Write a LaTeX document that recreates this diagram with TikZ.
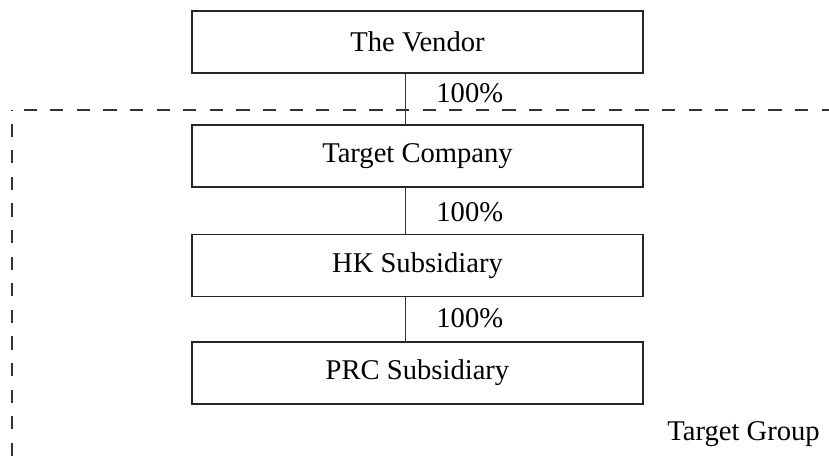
\documentclass[tikz,border=0pt]{standalone}
\usepackage{fontspec}
\setmainfont{Liberation Serif}
\usetikzlibrary{calc}
\begin{document}
\begin{tikzpicture}[x=0.5pt,y=-0.5pt,
  every node/.style={font=\fontsize{14.3}{17}\selectfont, inner sep=0pt},
  entity/.style={draw=black!85, line width=0.6pt, minimum width=225.5pt, minimum height=31pt},
  link/.style={draw=black!80, line width=0.5pt},
  share/.style={anchor=west},
  groupline/.style={draw=black!80, line width=0.6pt, dash pattern=on 6.6pt off 6.7pt}]
  \useasboundingbox (0,0) rectangle (829,467);

  % ownership chain
  \node[entity] (vendor) at (417.5,42)  {The Vendor};
  \node[entity] (target) at (417.5,156) {Target Company};
  \node[entity] (hk)     at (417.5,265.5) {HK Subsidiary};
  \node[entity] (prc)    at (417.5,373) {PRC Subsidiary};

  \draw[link] ([xshift=-6pt]vendor.south) -- ([xshift=-6pt]target.north);
  \draw[link] ([xshift=-6pt]target.south) -- ([xshift=-6pt]hk.north);
  \draw[link] ([xshift=-6pt]hk.south) -- ([xshift=-6pt]prc.north);

  \node[share] (p1) at (436,93)  {100\%};
  \node[share] (p2) at (436,212) {100\%};
  \node[share] (p3) at (436,318) {100\%};

  % boundary of the target group
  \coordinate (corner) at (12,110);
  \coordinate (east) at (829,110);
  \coordinate (south) at (12,467);
  \draw[groupline, dash phase=7.5pt] (corner) -- (east);
  \draw[groupline, dash phase=6.5pt] (corner) -- (south);
  \node[anchor=base west] (grp) at (667,440) {Target Group};
\end{tikzpicture}
\end{document}
